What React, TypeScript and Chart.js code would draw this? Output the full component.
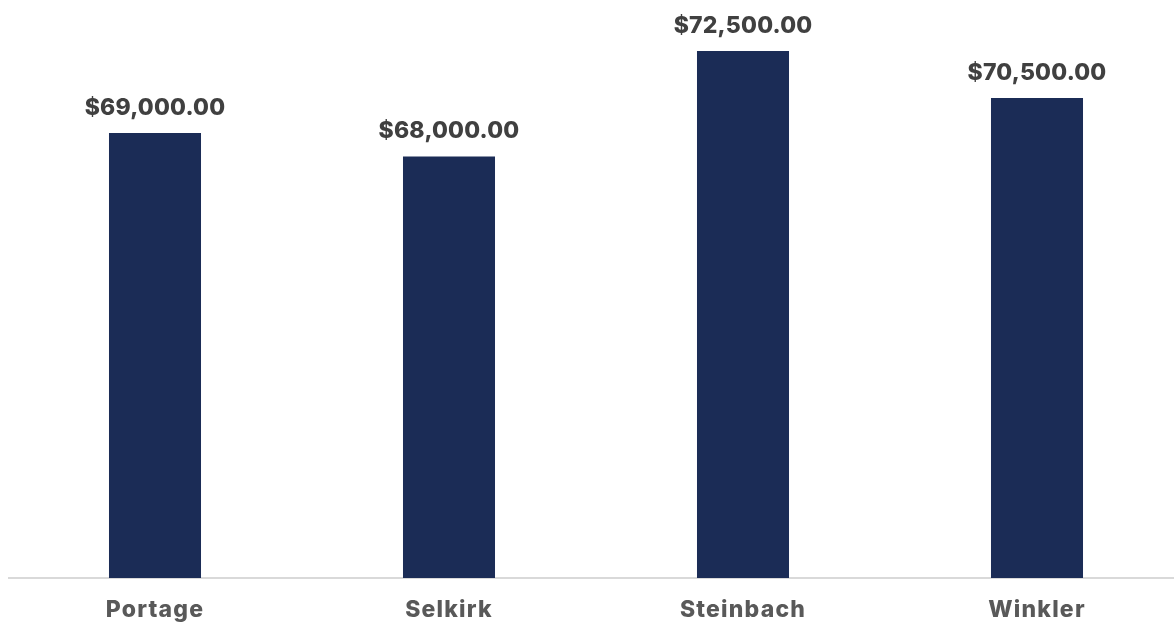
import React, { useEffect, useRef } from "react";
import { Chart, registerables } from "chart.js";

Chart.register(...registerables);

const categories = ["Portage", "Selkirk", "Steinbach", "Winkler"];
const salaries = [69000, 68000, 72500, 70500];
const yMin = 50000;
const yMax = 75000;

const BAR_COLOR = "#1b2c56";
const VALUE_COLOR = "#404040";
const CAT_COLOR = "#595959";
const FONT = "Inter, 'Open Sans', sans-serif";

const fmt = (v: number) =>
  "$" + v.toLocaleString("en-US", { minimumFractionDigits: 2, maximumFractionDigits: 2 });

const spacingPlugin = {
  id: "spacing",
  beforeDraw(chart: any) {
    (chart.ctx as any).letterSpacing = "1.2px";
  },
  afterDraw(chart: any) {
    (chart.ctx as any).letterSpacing = "0px";
  },
};

const valueLabels = {
  id: "valueLabels",
  afterDatasetsDraw(chart: any) {
    const ctx = chart.ctx;
    const meta = chart.getDatasetMeta(0);
    ctx.save();
    (ctx as any).letterSpacing = "0.2px";
    ctx.font = `800 23px ${FONT}`;
    ctx.fillStyle = VALUE_COLOR;
    ctx.textAlign = "center";
    ctx.textBaseline = "alphabetic";
    meta.data.forEach((bar: any, i: number) => {
      ctx.fillText(fmt(salaries[i]), bar.x, bar.y - 18);
    });
    ctx.restore();
  },
};

export default function App() {
  const ref = useRef<HTMLCanvasElement | null>(null);
  useEffect(() => {
    if (!ref.current) return;
    const chart = new Chart(ref.current, {
      type: "bar",
      data: {
        labels: categories,
        datasets: [
          {
            data: salaries,
            backgroundColor: BAR_COLOR,
            borderWidth: 0,
            categoryPercentage: 1,
            barPercentage: 0.313,
          },
        ],
      },
      options: {
        animation: false,
        responsive: false,
        maintainAspectRatio: false,
        devicePixelRatio: 1,
        layout: { padding: { top: 2.5, left: 0, right: 0, bottom: 0 } },
        plugins: {
          legend: { display: false },
          tooltip: { enabled: false },
        },
        scales: {
          x: {
            grid: { display: false, drawTicks: false },
            border: { display: true, color: "#d9d9d9", width: 2 },
            ticks: {
              color: CAT_COLOR,
              font: { family: FONT, size: 23, weight: 800 },
              padding: 18,
              maxRotation: 0,
              autoSkip: false,
            },
            afterFit: (scale: any) => {
              scale.height = 44;
            },
          },
          y: {
            display: false,
            min: yMin,
            max: yMax,
          },
        },
      },
      plugins: [spacingPlugin, valueLabels],
    });
    return () => chart.destroy();
  }, []);

  return (
    <div
      style={{
        position: "absolute",
        left: 0,
        top: 0,
        width: 1174,
        height: 622,
        overflow: "hidden",
        background: "#ffffff",
      }}
    >
      <canvas
        ref={ref}
        width={1176}
        height={632}
        style={{ position: "absolute", left: 8, top: -10, width: 1176, height: 632 }}
      />
    </div>
  );
}
